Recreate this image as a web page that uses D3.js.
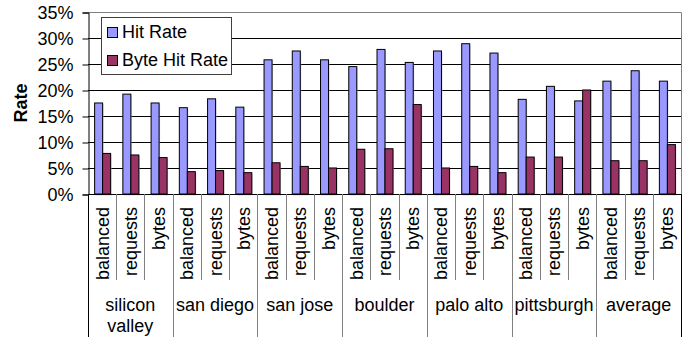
<!DOCTYPE html>
<html>
<head>
<meta charset="utf-8">
<script src="https://cdn.jsdelivr.net/npm/d3@7/dist/d3.min.js"></script>
<style>
  html, body { margin: 0; padding: 0; background: #fff; }
  svg text { font-family: "Liberation Sans", Arial, sans-serif; fill: #000; }
</style>
</head>
<body>
<svg id="chart" width="692" height="339"></svg>
<script>
// Sites, cache policies and the two measured rates (percent)
const groups = ["silicon valley", "san diego", "san jose", "boulder", "palo alto", "pittsburgh", "average"];
const policies = ["balanced", "requests", "bytes"];
const seriesNames = ["Hit Rate", "Byte Hit Rate"];
const hitRate = [17.6, 19.3, 17.6, 16.7, 18.4, 16.8, 25.9, 27.6, 25.9, 24.6, 27.9, 25.4,
                 27.6, 29.0, 27.2, 18.3, 20.8, 18.0, 21.8, 23.8, 21.8];
const byteHitRate = [7.9, 7.6, 7.1, 4.4, 4.6, 4.2, 6.1, 5.4, 5.1, 8.7, 8.8, 17.3,
                     5.1, 5.4, 4.2, 7.2, 7.2, 20.1, 6.5, 6.5, 9.6];
const yTicks = [0, 5, 10, 15, 20, 25, 30, 35];

const colors = ["#9999ff", "#993366"];

const rows = [];
groups.forEach((g, gi) => policies.forEach((p, pi) => {
  const i = gi * policies.length + pi;
  rows.push({ key: g + "|" + p, group: g, policy: p, values: [hitRate[i], byteHitRate[i]] });
}));

const svg = d3.select("#chart");
const plotL = 88, plotR = 681, plotT = 12, plotB = 194;
const fs = 18;

const x0 = d3.scaleBand().domain(rows.map(d => d.key)).range([plotL, plotR]).padding(0);
const groupW = 16;
const x1 = d3.scaleBand().domain(seriesNames).range([0, groupW]).padding(0);
const y = d3.scaleLinear().domain([0, 35]).range([plotB, plotT]);

// horizontal gridlines
svg.append("g").selectAll("line").data(yTicks.filter(t => t > 0 && t < 35)).join("line")
  .attr("x1", plotL).attr("x2", plotR)
  .attr("y1", d => y(d) + 0.5).attr("y2", d => y(d) + 0.5)
  .attr("stroke", "#000").attr("stroke-width", 1);

// plot frame (top and right)
svg.append("path")
  .attr("d", `M${plotL},${plotT + 0.5}H${plotR + 0.5}V${plotB}`)
  .attr("fill", "none").attr("stroke", "#808080").attr("stroke-width", 1);

// bars
const barG = svg.append("g").selectAll("g").data(rows).join("g")
  .attr("transform", d => `translate(${x0(d.key) + (x0.bandwidth() - groupW) / 2},0)`);
const bars = barG.selectAll("g").data(d => d.values.map((v, i) => ({ s: seriesNames[i], v, i }))).join("g");
bars.append("rect")
  .attr("x", d => x1(d.s) + 1.5).attr("y", d => y(d.v) + 1.5)
  .attr("width", x1.bandwidth()).attr("height", d => plotB - y(d.v))
  .attr("fill", "#b8b8b8").attr("opacity", 0.6);
bars.append("rect")
  .attr("x", d => x1(d.s) + 0.5).attr("y", d => y(d.v) + 0.5)
  .attr("width", x1.bandwidth()).attr("height", d => plotB - y(d.v) - 0.5)
  .attr("fill", d => colors[d.i]).attr("stroke", "#000").attr("stroke-width", 1);

// y axis
const yAxis = d3.axisLeft(y).tickValues(yTicks).tickSize(6).tickPadding(9).tickFormat(d => d + "%");
const yg = svg.append("g").attr("transform", `translate(${plotL + 0.5},0.5)`).call(yAxis);
yg.select(".domain").attr("stroke", "#000");
yg.selectAll(".tick line").attr("stroke", "#000");
yg.selectAll("text").attr("font-size", fs).attr("font-family", '"Liberation Sans", Arial, sans-serif');

svg.append("text")
  .attr("transform", `translate(27,${(plotT + plotB) / 2}) rotate(-90)`)
  .attr("text-anchor", "middle").attr("font-size", fs).attr("font-weight", "bold")
  .text("Rate");

// x axis baseline
svg.append("line").attr("x1", plotL).attr("x2", plotR + 1)
  .attr("y1", plotB + 0.5).attr("y2", plotB + 0.5).attr("stroke", "#000");

// separators between policies and between sites
const seps = d3.range(rows.length + 1);
svg.append("g").selectAll("line").data(seps).join("line")
  .attr("x1", i => Math.round(plotL + i * x0.step()) + 0.5)
  .attr("x2", i => Math.round(plotL + i * x0.step()) + 0.5)
  .attr("y1", plotB)
  .attr("y2", i => (i % policies.length === 0) ? 337 : 280)
  .attr("stroke", i => (i === 0 || i === rows.length) ? "#000" : "#808080")
  .attr("stroke-width", 1);

// policy labels (rotated)
svg.append("g").selectAll("text").data(rows).join("text")
  .attr("transform", d => `translate(${x0(d.key) + x0.bandwidth() / 2 + 6.5},207) rotate(-90)`)
  .attr("text-anchor", "end").attr("font-size", fs)
  .text(d => d.policy);

// site labels
const gw = x0.step() * policies.length;
const gl = svg.append("g").selectAll("text").data(groups).join("text")
  .attr("text-anchor", "middle").attr("font-size", fs)
  .attr("x", (d, i) => plotL + gw * i + gw / 2)
  .attr("y", 311);
gl.each(function (d) {
  const words = d === "silicon valley" ? ["silicon", "valley"] : [d];
  const t = d3.select(this);
  words.forEach((w, k) => t.append("tspan")
    .attr("x", t.attr("x")).attr("dy", k === 0 ? 0 : 21).text(w));
});

// legend
const lg = svg.append("g").attr("transform", "translate(101,17)");
lg.append("rect").attr("x", 0.5).attr("y", 0.5).attr("width", 130).attr("height", 57)
  .attr("fill", "#fff").attr("stroke", "#404040");
seriesNames.forEach((s, i) => {
  const row = lg.append("g").attr("transform", `translate(0,${i * 28})`);
  row.append("rect").attr("x", 6.5).attr("y", 10.5).attr("width", 10).attr("height", 10)
    .attr("fill", colors[i]).attr("stroke", "#000");
  row.append("text").attr("x", 21).attr("y", 20.5).attr("font-size", fs).text(s);
});
</script>
</body>
</html>
